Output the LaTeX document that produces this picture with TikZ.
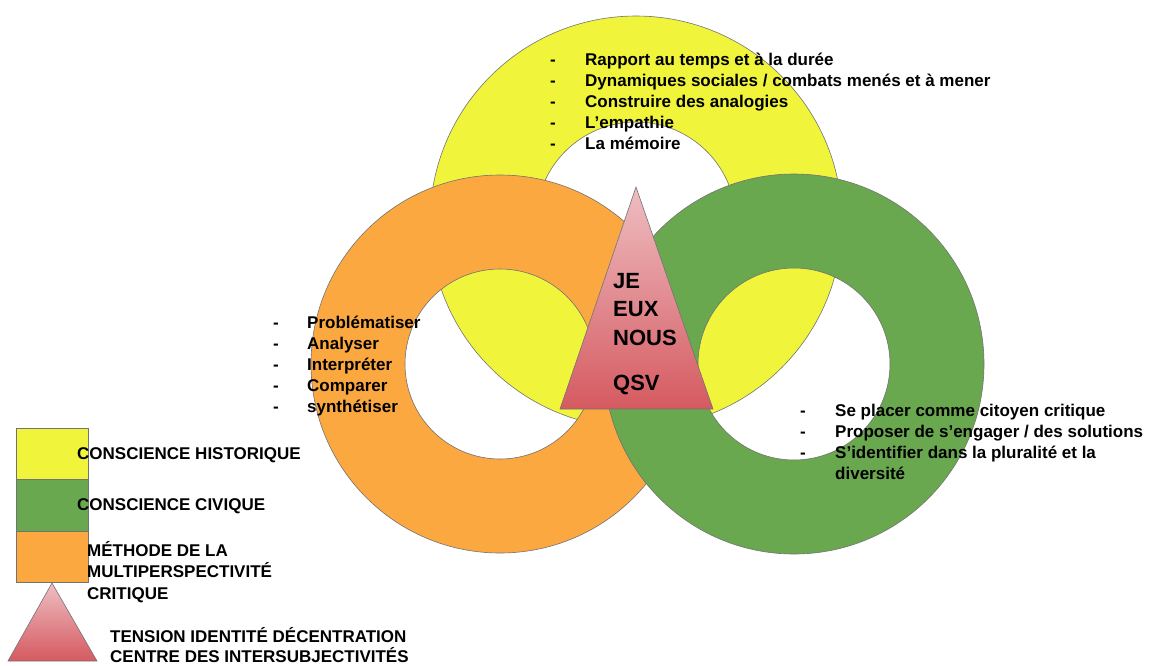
\documentclass[tikz,border=0pt]{standalone}
\usepackage{fontspec}
\setmainfont{Liberation Sans}
\definecolor{jaune}{RGB}{240,245,60}
\definecolor{vert}{RGB}{106,168,79}
\definecolor{orange}{RGB}{252,168,64}
\definecolor{rose}{RGB}{238,190,194}
\definecolor{rouge}{RGB}{213,90,96}
\begin{document}
\begin{tikzpicture}[x=1pt, y=-1pt,
  ring/.style={draw=black!55, line width=.6pt, even odd rule},
  tri/.style={draw=black!55, line width=.6pt, top color=rose, bottom color=rouge},
  txt/.style={anchor=base west, inner sep=0pt, font=\fontsize{17}{21}\selectfont\bfseries}]
\useasboundingbox (0,0) rectangle (1149,665);
\fill [white] (0,0) rectangle (1149,665);
% anneaux
\path [ring, fill=jaune] (636,222) circle [radius=206pt] (636,222) circle [radius=100pt];
\path [ring, fill=orange] (500,364) circle [radius=189pt] (500,364) circle [radius=95pt];
\path [ring, fill=vert] (794,364) circle [radius=190pt] (794,364) circle [radius=96pt];
\draw [tri] (636,187)--(713,409)--(560,409)--cycle;
\node [txt, font=\fontsize{22}{28.5}\selectfont\bfseries] (nous) at (613,288)
  {\begin{tabular}[t]{@{}l@{}}JE\\EUX\\NOUS\\[16.5pt]QSV\end{tabular}};
% listes
\node [txt] (histoire) at (550,65) {\begin{tabular}[t]{@{}p{35pt}@{}l@{}}
  -&Rapport au temps et à la durée\\
  -&Dynamiques sociales / combats menés et à mener\\
  -&Construire des analogies\\
  -&L’empathie\\
  -&La mémoire\end{tabular}};
\node [txt] (methode) at (273,328) {\begin{tabular}[t]{@{}p{34pt}@{}l@{}}
  -&Problématiser\\
  -&Analyser\\
  -&Interpréter\\
  -&Comparer\\
  -&synthétiser\end{tabular}};
\node [txt] (civique) at (800,416) {\begin{tabular}[t]{@{}p{35pt}@{}l@{}}
  -&Se placer comme citoyen critique\\
  -&Proposer de s’engager / des solutions\\
  -&S’identifier dans la pluralité et la\\
  &diversité\end{tabular}};
% legende
\draw [ring, fill=jaune] (16,428) rectangle (88,479);
\draw [ring, fill=vert] (16,479) rectangle (88,531);
\draw [ring, fill=orange] (16,531) rectangle (88,582);
\draw [tri] (52,583)--(97,661)--(8,661)--cycle;
\node [txt] (lh) at (77,459) {CONSCIENCE HISTORIQUE};
\node [txt] (lc) at (77,510) {CONSCIENCE CIVIQUE};
\node [txt, font=\fontsize{17}{21.5}\selectfont\bfseries] (lm) at (87,556)
  {\begin{tabular}[t]{@{}l@{}}MÉTHODE DE LA\\MULTIPERSPECTIVITÉ\\CRITIQUE\end{tabular}};
\node [txt, font=\fontsize{17}{19}\selectfont\bfseries] (lt) at (110,642)
  {\begin{tabular}[t]{@{}l@{}}TENSION IDENTITÉ DÉCENTRATION\\CENTRE DES INTERSUBJECTIVITÉS\end{tabular}};
\end{tikzpicture}
\end{document}
